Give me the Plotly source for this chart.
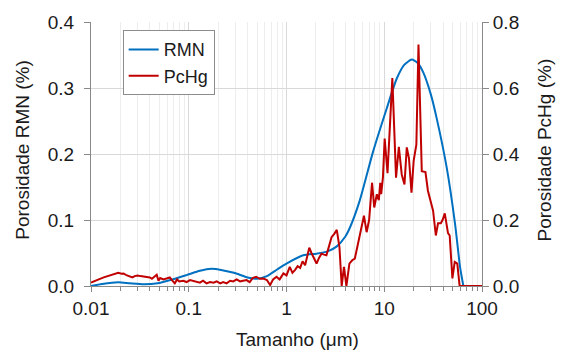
import plotly.graph_objects as go

# RMN (left axis)
rmn_x = [0.010, 0.013, 0.019, 0.025, 0.035, 0.048, 0.065, 0.095, 0.13, 0.17, 0.22, 0.29,
         0.41, 0.50, 0.63, 0.80, 1.0, 1.48, 2.03, 2.6, 3.27, 4.0, 4.47, 5.6, 7.7, 10.6,
         13.4, 16.0, 19.1, 22.0, 25.0, 30.0, 34.4, 43.6, 53.0, 59.6, 64.5]
rmn_y = [0.000, 0.003, 0.0055, 0.004, 0.0025, 0.004, 0.009, 0.0165, 0.023, 0.026, 0.024, 0.020,
         0.0125, 0.011, 0.015, 0.025, 0.034, 0.0465, 0.049, 0.052, 0.060, 0.075, 0.089, 0.129,
         0.204, 0.269, 0.314, 0.335, 0.343, 0.338, 0.324, 0.290, 0.254, 0.179, 0.094, 0.029, 0.0]

# PcHg (right axis)
pchg_x = [0.0100, 0.0110, 0.0120, 0.0135, 0.0150, 0.0165, 0.0180, 0.0190, 0.0205, 0.0215,
          0.0230, 0.0250, 0.0265, 0.0280, 0.0300, 0.0320, 0.0345, 0.0370, 0.0400, 0.0420,
          0.0440, 0.0470, 0.0490, 0.0510, 0.0550, 0.0590, 0.0640, 0.0680, 0.0720, 0.0760,
          0.0800, 0.0880, 0.0950, 0.1030, 0.1110, 0.1200, 0.1300, 0.1400, 0.1520, 0.1650,
          0.1800, 0.1930, 0.2100, 0.2250, 0.2440, 0.2650, 0.2850, 0.3090, 0.3350, 0.3600,
          0.3900, 0.4200, 0.4500, 0.4900, 0.5300, 0.5800, 0.6300, 0.6800, 0.7300, 0.7900,
          0.8500, 0.9300, 1.00, 1.08, 1.15, 1.22, 1.30, 1.38, 1.46, 1.55,
          1.63, 1.71, 1.80, 1.88, 2.03, 2.15, 2.28, 2.42, 2.56, 2.72,
          2.89, 3.08, 3.27, 3.48, 3.67, 3.87, 4.10, 4.40, 4.70, 5.00,
          5.30, 5.60, 5.90, 6.20, 6.60, 7.00, 7.50, 7.90, 8.40, 8.80,
          9.10, 9.30, 9.70, 10.1, 10.8, 11.5, 12.1, 13.2, 14.1, 15.1,
          16.1, 17.0, 17.9, 19.0, 20.0, 21.3, 22.4, 24.2, 26.4, 28.0,
          30.0, 31.6, 33.7, 35.5, 37.9, 39.5, 41.6, 44.9, 46.7, 49.8,
          52.6, 55.9, 59.0, 65.0, 80.0, 100.0]
pchg_y = [0.010, 0.014, 0.020, 0.026, 0.030, 0.034, 0.036, 0.040, 0.037, 0.038,
          0.033, 0.030, 0.026, 0.030, 0.032, 0.030, 0.029, 0.028, 0.026, 0.022,
          0.026, 0.034, 0.016, 0.024, 0.020, 0.022, 0.026, 0.016, 0.008, 0.020,
          0.014, 0.016, 0.012, 0.018, 0.015, 0.014, 0.010, 0.016, 0.008, 0.012,
          0.010, 0.014, 0.008, 0.012, 0.008, 0.016, 0.014, 0.020, 0.014, 0.016,
          0.018, 0.012, 0.024, 0.028, 0.022, 0.023, 0.018, 0.003, 0.020, 0.028,
          0.020, 0.038, 0.032, 0.058, 0.040, 0.048, 0.060, 0.055, 0.075, 0.063,
          0.090, 0.116, 0.100, 0.088, 0.068, 0.085, 0.098, 0.095, 0.093, 0.120,
          0.148, 0.158, 0.170, 0.118, 0.000, 0.058, 0.000, 0.068, 0.078, 0.083,
          0.120, 0.158, 0.185, 0.213, 0.163, 0.200, 0.313, 0.238, 0.278, 0.260,
          0.313, 0.278, 0.330, 0.447, 0.342, 0.487, 0.630, 0.328, 0.422, 0.338,
          0.308, 0.420, 0.387, 0.283, 0.380, 0.428, 0.732, 0.348, 0.345, 0.288,
          0.258, 0.228, 0.153, 0.190, 0.190, 0.200, 0.220, 0.160, 0.153, 0.023,
          0.073, 0.068, 0.000, 0.000, 0.000, 0.000]

x_tickvals = [0.01, 0.1, 1, 10, 100]
x_ticktext = ["0.01", "0.1", "1", "10", "100"]
x_minor = [m * 10.0 ** e for e in range(-2, 2) for m in range(2, 10)]

FONT = "Liberation Sans, Arial, sans-serif"
AXC = "#898989"
FS = 19

fig = go.Figure()
fig.add_trace(go.Scatter(x=rmn_x, y=rmn_y, name="RMN", mode="lines",
                         line=dict(color="#0070C0", width=2, shape="spline", smoothing=0.6)))
fig.add_trace(go.Scatter(x=pchg_x, y=pchg_y, name="PcHg", mode="lines", yaxis="y2",
                         line=dict(color="#C00000", width=2)))

fig.update_layout(
    width=561, height=352,
    margin=dict(l=91, r=79, t=19, b=66),
    paper_bgcolor="white", plot_bgcolor="white",
    font=dict(family=FONT, size=FS, color="#1a1a1a"),
    showlegend=True,
    legend=dict(x=0.081, y=0.969, xanchor="left", yanchor="top",
                bgcolor="white", bordercolor="#8c8c8c", borderwidth=1,
                font=dict(size=18), tracegroupgap=0, itemwidth=30),
    xaxis=dict(type="log", range=[-2, 2], tickvals=x_tickvals, ticktext=x_ticktext,
               showline=True, linecolor=AXC, linewidth=1, mirror=False,
               ticks="outside", ticklen=5, tickcolor=AXC,
               showgrid=True, gridcolor="#d9d9d9", gridwidth=1,
               minor=dict(tickvals=x_minor, ticks="outside", ticklen=4, tickcolor=AXC,
                          showgrid=True, gridcolor="#ededed", gridwidth=1),
               zeroline=False),
    yaxis=dict(range=[0, 0.4], tickvals=[0, 0.1, 0.2, 0.3, 0.4], tickformat=".1f",
               showline=True, linecolor=AXC, linewidth=1,
               ticks="outside", ticklen=6, tickcolor=AXC, ticklabelstandoff=6,
               showgrid=True, gridcolor="#d9d9d9", zeroline=False),
    yaxis2=dict(range=[0, 0.8], tickvals=[0, 0.2, 0.4, 0.6, 0.8], tickformat=".1f",
                overlaying="y", side="right",
                showline=True, linecolor=AXC, linewidth=1,
                ticks="outside", ticklen=6, tickcolor=AXC,
                showgrid=False, zeroline=False),
    annotations=[
        dict(text="Porosidade RMN (%)", xref="paper", yref="paper", x=-0.174, y=0.516,
             textangle=-90, showarrow=False, xanchor="center", yanchor="middle",
             font=dict(size=FS)),
        dict(text="Porosidade PcHg (%)", xref="paper", yref="paper", x=1.161, y=0.517,
             textangle=-90, showarrow=False, xanchor="center", yanchor="middle",
             font=dict(size=FS)),
        dict(text="Tamanho (\u03bcm)", xref="paper", yref="paper", x=0.527, y=-0.202,
             showarrow=False, xanchor="center", yanchor="middle",
             font=dict(size=FS)),
    ],
)

fig.write_html("out.html")
